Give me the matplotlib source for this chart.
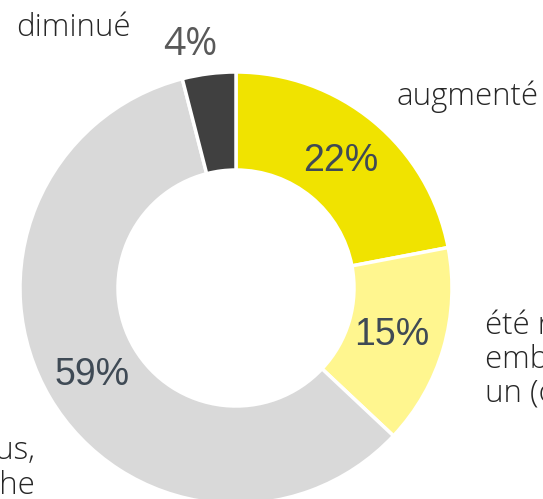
import matplotlib.pyplot as plt

plt.rcParams["font.family"] = ["Open Sans", "DejaVu Sans"]

# data
categories = ["augmenté", "été réduits", "restés les mêmes", "diminué"]
shares = [22, 15, 59, 4]
pct_labels = ["22%", "15%", "59%", "4%"]
colors = ["#f0e300", "#fff68f", "#d9d9d9", "#404040"]

W, H = 543, 499
fig = plt.figure(figsize=(W / 100, H / 100), dpi=100)
ax = fig.add_axes([0, 0, 1, 1])

cx, cy, r = 236, H - 288, 216
ax.pie(
    shares,
    colors=colors,
    startangle=90,
    counterclock=False,
    center=(cx, cy),
    radius=r,
    wedgeprops=dict(width=98, edgecolor="white", linewidth=2.5),
    frame=True,
)
ax.set_xlim(0, W)
ax.set_ylim(0, H)
ax.set_aspect("equal")
ax.axis("off")

pct_color = "#3f4a55"
pct_font = dict(fontsize=27, color=pct_color, ha="center", va="center", family="Liberation Sans")
ax.text(341, H - 161, pct_labels[0], **pct_font)
ax.text(392, H - 335, pct_labels[1], **pct_font)
ax.text(92, H - 375, pct_labels[2], **pct_font)
ax.text(190, H - 45, pct_labels[3], fontsize=28, color="#595959", ha="center", va="center")

lab_color = "#262626"
lab_font = dict(fontsize=22.5, color=lab_color, fontweight="light")
ax.text(16, H - 28, "diminué", ha="left", va="center", **lab_font)
ax.text(397, H - 97, "augmenté", ha="left", va="center", **lab_font)
ax.text(485, H - 360, "été réduits ou ont\nembauché moins\nun (ou plusieurs)",
        ha="left", va="center", linespacing=1.1, **lab_font)
ax.text(35, H - 468, "sont restés les mêmes ou plus,\nqu'il n'y a pas de tâche",
        ha="right", va="center", linespacing=1.1, **lab_font)

fig.savefig("out.png", dpi=100)
